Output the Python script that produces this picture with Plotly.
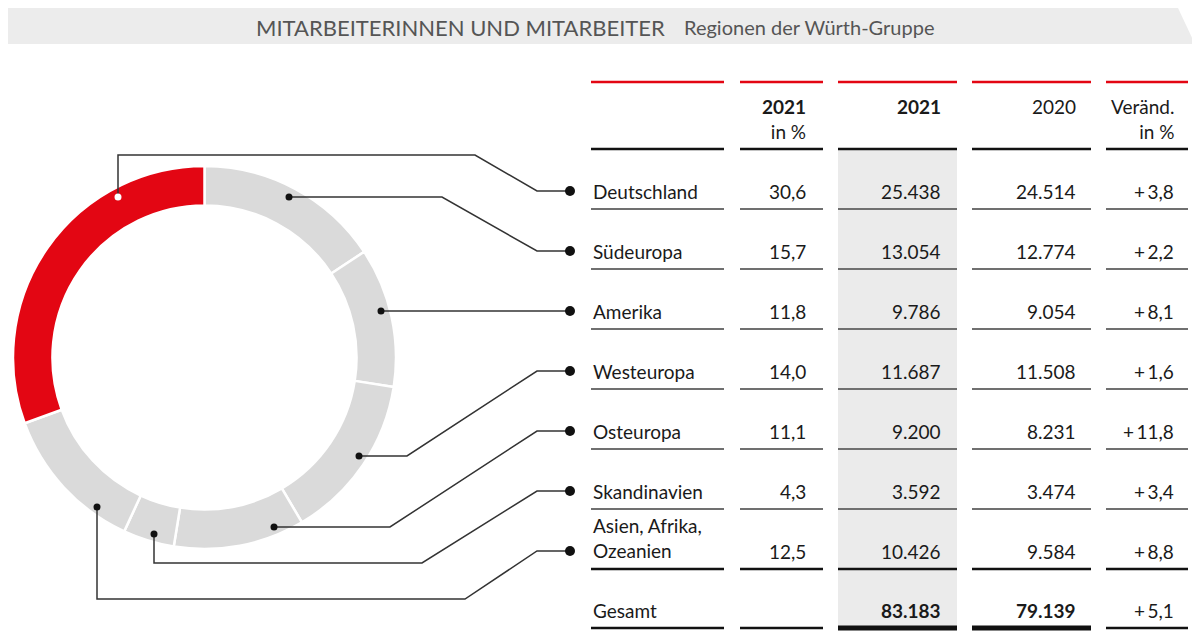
import plotly.graph_objects as go

# ---------------- data ----------------
regions = ["Deutschland", "Südeuropa", "Amerika", "Westeuropa", "Osteuropa",
           "Skandinavien", "Asien, Afrika,<br>Ozeanien"]
share_2021_pct = [30.6, 15.7, 11.8, 14.0, 11.1, 4.3, 12.5]
employees_2021 = [25438, 13054, 9786, 11687, 9200, 3592, 10426]
employees_2020 = [24514, 12774, 9054, 11508, 8231, 3474, 9584]
change_pct = [3.8, 2.2, 8.1, 1.6, 11.8, 3.4, 8.8]

total_label = "Gesamt"
total_2021 = 83183
total_2020 = 79139
total_change_pct = 5.1

header_cols = ["<b>2021</b><br>in %", "<b>2021</b>", "2020", "Veränd.<br>in %"]
title_main = "MITARBEITERINNEN UND MITARBEITER"
title_sub = "Regionen der Würth-Gruppe"

ring_order = ["Südeuropa", "Amerika", "Westeuropa", "Osteuropa", "Skandinavien",
              "Asien, Afrika,<br>Ozeanien", "Deutschland"]
highlight = "Deutschland"

# ---------------- styles / layout constants ----------------
W, H = 1200, 639
OFF = 8  # page body margin: figure origin sits at page pixel (8, 8)
RED = "#e30613"
RING_GREY = "#dadada"
FONT = "Lato"
TXT = "#1a1a1a"
FS = 19

def de_int(v):
    return f"{v:,}".replace(",", ".")

def de_dec(v):
    return f"{v:.1f}".replace(".", ",")

def de_change(v):
    return "+\u2009" + de_dec(v)

# table columns: (x_left, x_right, text_right)
cols = [(591, 724, None), (740, 823, 808), (838, 957, 943), (972, 1091, 1078), (1106, 1188, 1176)]
row_y = [191 + 60 * i for i in range(len(regions))]
row_line_y = [y + 18 for y in row_y]
total_y = 610
total_line_y = 628
bullet_x = 570

# leader lines (pixel layout of connectors from ring to table rows)
leader_start = {
    "Deutschland": [(118, 197), (118, 155), (475, 155)],
    "Südeuropa": [(289, 197), (442, 197)],
    "Amerika": [(381, 311)],
    "Westeuropa": [(359, 456), (407, 456)],
    "Osteuropa": [(274, 527), (390, 527)],
    "Skandinavien": [(154, 534), (154, 563), (422, 563)],
    "Asien, Afrika,<br>Ozeanien": [(97, 507), (97, 599), (465, 599)],
}
elbow_x = 537

fig = go.Figure()

# ring (page pixels 13..396 x 166..549)
ring_values = [employees_2021[regions.index(r)] for r in ring_order]
ring_colors = [RED if r == highlight else RING_GREY for r in ring_order]
fig.add_trace(go.Pie(
    labels=[r.replace("<br>", " ") for r in ring_order],
    values=ring_values,
    hole=0.794,
    sort=False,
    direction="clockwise",
    rotation=0,
    marker=dict(colors=ring_colors, line=dict(color="white", width=2.5)),
    textinfo="none",
    showlegend=False,
    domain=dict(x=[(13 - OFF) / W, (396 - OFF) / W],
                y=[1 - (549 - OFF) / H, 1 - (166 - OFF) / H]),
))

# invisible pixel axes for shapes / annotations
fig.add_trace(go.Scatter(x=[OFF, W + OFF], y=[OFF, H + OFF], mode="markers",
                         marker=dict(opacity=0), showlegend=False, hoverinfo="skip"))

shapes = []
annotations = []

# title band
shapes.append(dict(type="path", path="M 0 8 L 1178 8 L 1195 44 L 0 44 Z",
                   fillcolor="#ececec", line=dict(width=0), layer="below",
                   xref="x", yref="y"))
annotations.append(dict(x=667, y=27, xref="x", yref="y", text=title_main, showarrow=False,
                        xanchor="right", yanchor="middle",
                        font=dict(family=FONT, size=22, color="#555555")))
annotations.append(dict(x=682, y=27, xref="x", yref="y", text=title_sub, showarrow=False,
                        xanchor="left", yanchor="middle",
                        font=dict(family=FONT, size=20, color="#555555")))

# grey highlight column
shapes.append(dict(type="rect", x0=cols[2][0], x1=cols[2][1], y0=150, y1=626,
                   fillcolor="#ebebeb", line=dict(width=0), layer="below",
                   xref="x", yref="y"))

def hline(x0, x1, y, color, width):
    shapes.append(dict(type="line", x0=x0, x1=x1, y0=y, y1=y, xref="x", yref="y",
                       line=dict(color=color, width=width), layer="above"))

for (xl, xr, _) in cols:
    hline(xl, xr, 82, RED, 2.5)
    hline(xl, xr, 149, "#111111", 2.5)
    for i, ly in enumerate(row_line_y):
        if i == len(row_line_y) - 1:
            hline(xl, xr, ly, "#111111", 2.5)
        else:
            hline(xl, xr, ly, "#707070", 2)

for ci, (xl, xr, _) in enumerate(cols):
    if ci in (2, 3):
        hline(xl, xr, total_line_y, "#111111", 5)
    else:
        hline(xl, xr, total_line_y, "#111111", 2.5)

# header texts
for ci, txt in enumerate(header_cols):
    annotations.append(dict(x=cols[ci + 1][2], y=93, xref="x", yref="y", text=txt,
                            showarrow=False, xanchor="right", yanchor="top", align="right",
                            font=dict(family=FONT, size=FS, color=TXT)))

# body rows
for i, reg in enumerate(regions):
    y = row_y[i]
    lbl_y = y - 13 if "<br>" in reg else y
    annotations.append(dict(x=cols[0][0], y=lbl_y, xref="x", yref="y", text=reg,
                            showarrow=False, xanchor="left", yanchor="middle", align="left",
                            font=dict(family=FONT, size=FS, color=TXT)))
    vals = [de_dec(share_2021_pct[i]), de_int(employees_2021[i]),
            de_int(employees_2020[i]), de_change(change_pct[i])]
    for ci, v in enumerate(vals):
        annotations.append(dict(x=cols[ci + 1][2], y=y, xref="x", yref="y", text=v,
                                showarrow=False, xanchor="right", yanchor="middle",
                                font=dict(family=FONT, size=FS, color=TXT)))

# total row
annotations.append(dict(x=cols[0][0], y=total_y, xref="x", yref="y", text=total_label,
                        showarrow=False, xanchor="left", yanchor="middle",
                        font=dict(family=FONT, size=FS, color=TXT)))
for ci, v in ((2, "<b>" + de_int(total_2021) + "</b>"), (3, "<b>" + de_int(total_2020) + "</b>"),
              (4, de_change(total_change_pct))):
    annotations.append(dict(x=cols[ci][2], y=total_y, xref="x", yref="y", text=v,
                            showarrow=False, xanchor="right", yanchor="middle",
                            font=dict(family=FONT, size=FS, color=TXT)))

# leader lines
for i, reg in enumerate(regions):
    pts = list(leader_start[reg])
    ty = row_y[i]
    if pts[-1][1] != ty:
        pts.append((elbow_x, ty))
    pts.append((bullet_x, ty))
    path = "M " + " L ".join(f"{x} {y}" for x, y in pts)
    shapes.append(dict(type="path", path=path, xref="x", yref="y",
                       line=dict(color="#333333", width=1.5), layer="above"))
    sx, sy = pts[0]
    dot_col = "white" if reg == highlight else "#111111"
    r = 3.5
    shapes.append(dict(type="circle", x0=sx - r, x1=sx + r, y0=sy - r, y1=sy + r,
                       xref="x", yref="y", fillcolor=dot_col, line=dict(width=0), layer="above"))
    rb = 5
    shapes.append(dict(type="circle", x0=bullet_x - rb, x1=bullet_x + rb, y0=ty - rb, y1=ty + rb,
                       xref="x", yref="y", fillcolor="#111111", line=dict(width=0), layer="above"))

fig.update_layout(
    width=W, height=H,
    margin=dict(l=0, r=0, t=0, b=0),
    paper_bgcolor="white", plot_bgcolor="white",
    xaxis=dict(range=[OFF, W + OFF], visible=False, fixedrange=True, domain=[0, 1]),
    yaxis=dict(range=[H + OFF, OFF], visible=False, fixedrange=True, domain=[0, 1]),
    shapes=shapes,
    annotations=annotations,
    showlegend=False,
)

fig.write_html("out.html")
